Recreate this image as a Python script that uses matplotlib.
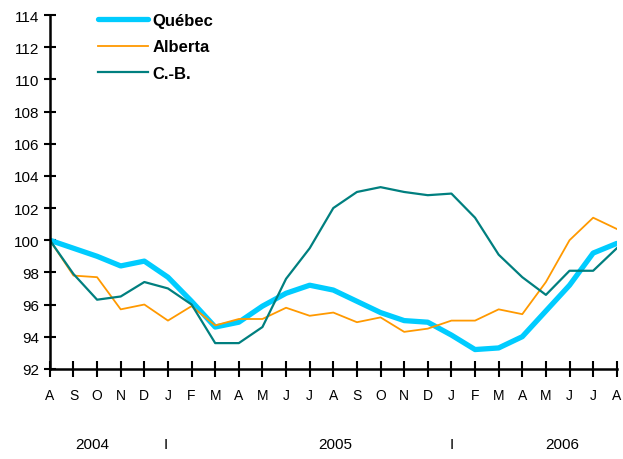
import matplotlib
matplotlib.use("Agg")
import matplotlib.pyplot as plt
import matplotlib.transforms as mtransforms

plt.rcParams['font.family'] = ['Liberation Sans', 'DejaVu Sans']

months = ["A", "S", "O", "N", "D", "J", "F", "M", "A", "M", "J", "J",
          "A", "S", "O", "N", "D", "J", "F", "M", "A", "M", "J", "J", "A"]

quebec = [100.0, 99.5, 99.0, 98.4, 98.7, 97.7, 96.2, 94.6, 94.9, 95.9, 96.7, 97.2,
          96.9, 96.2, 95.5, 95.0, 94.9, 94.1, 93.2, 93.3, 94.0, 95.6, 97.2, 99.2, 99.8]
alberta = [100.0, 97.8, 97.7, 95.7, 96.0, 95.0, 95.9, 94.7, 95.1, 95.1, 95.8, 95.3,
           95.5, 94.9, 95.2, 94.3, 94.5, 95.0, 95.0, 95.7, 95.4, 97.4, 100.0, 101.4, 100.7]
cb = [100.0, 97.9, 96.3, 96.5, 97.4, 97.0, 96.0, 93.6, 93.6, 94.6, 97.6, 99.5,
      102.0, 103.0, 103.3, 103.0, 102.8, 102.9, 101.4, 99.1, 97.7, 96.6, 98.1, 98.1, 99.5]

years = ["2004", "I", "2005", "I", "2006"]
year_pos = [1.8, 4.9, 12.1, 17.0, 21.7]

x = list(range(len(months)))

fig = plt.figure(figsize=(6.23, 4.6), dpi=100)
ax = fig.add_axes([0.080, 0.196, 0.910, 0.769])

ax.plot(x, quebec, color="#00CCFF", linewidth=3.8, label="Québec", solid_capstyle="round")
ax.plot(x, alberta, color="#FF9900", linewidth=1.3, label="Alberta")
ax.plot(x, cb, color="#007F7F", linewidth=1.6, label="C.-B.")

ax.set_xlim(0, 24)
ax.set_ylim(92, 114)
ax.set_yticks(range(92, 115, 2))
ax.set_xticks(x)
ax.set_xticklabels(months)

for s in ("top", "right"):
    ax.spines[s].set_visible(False)
for s in ("left", "bottom"):
    ax.spines[s].set_linewidth(1.8)

ax.tick_params(axis="y", direction="inout", length=9, width=1.5, labelsize=11, pad=3)
ax.tick_params(axis="x", direction="inout", length=11, width=1.5, labelsize=10, pad=8)

trans = mtransforms.blended_transform_factory(ax.transData, fig.transFigure)
for lab, pos in zip(years, year_pos):
    ax.text(pos, 1 - 445 / 460, lab, transform=trans, ha="center", va="center", fontsize=11)

leg = ax.legend(loc="upper left", bbox_to_anchor=(0.058, 1.048), frameon=False,
                handlelength=3.0, handletextpad=0.3, labelspacing=0.68,
                prop={"weight": "bold", "size": 12})

fig.savefig("out.png", dpi=100)
